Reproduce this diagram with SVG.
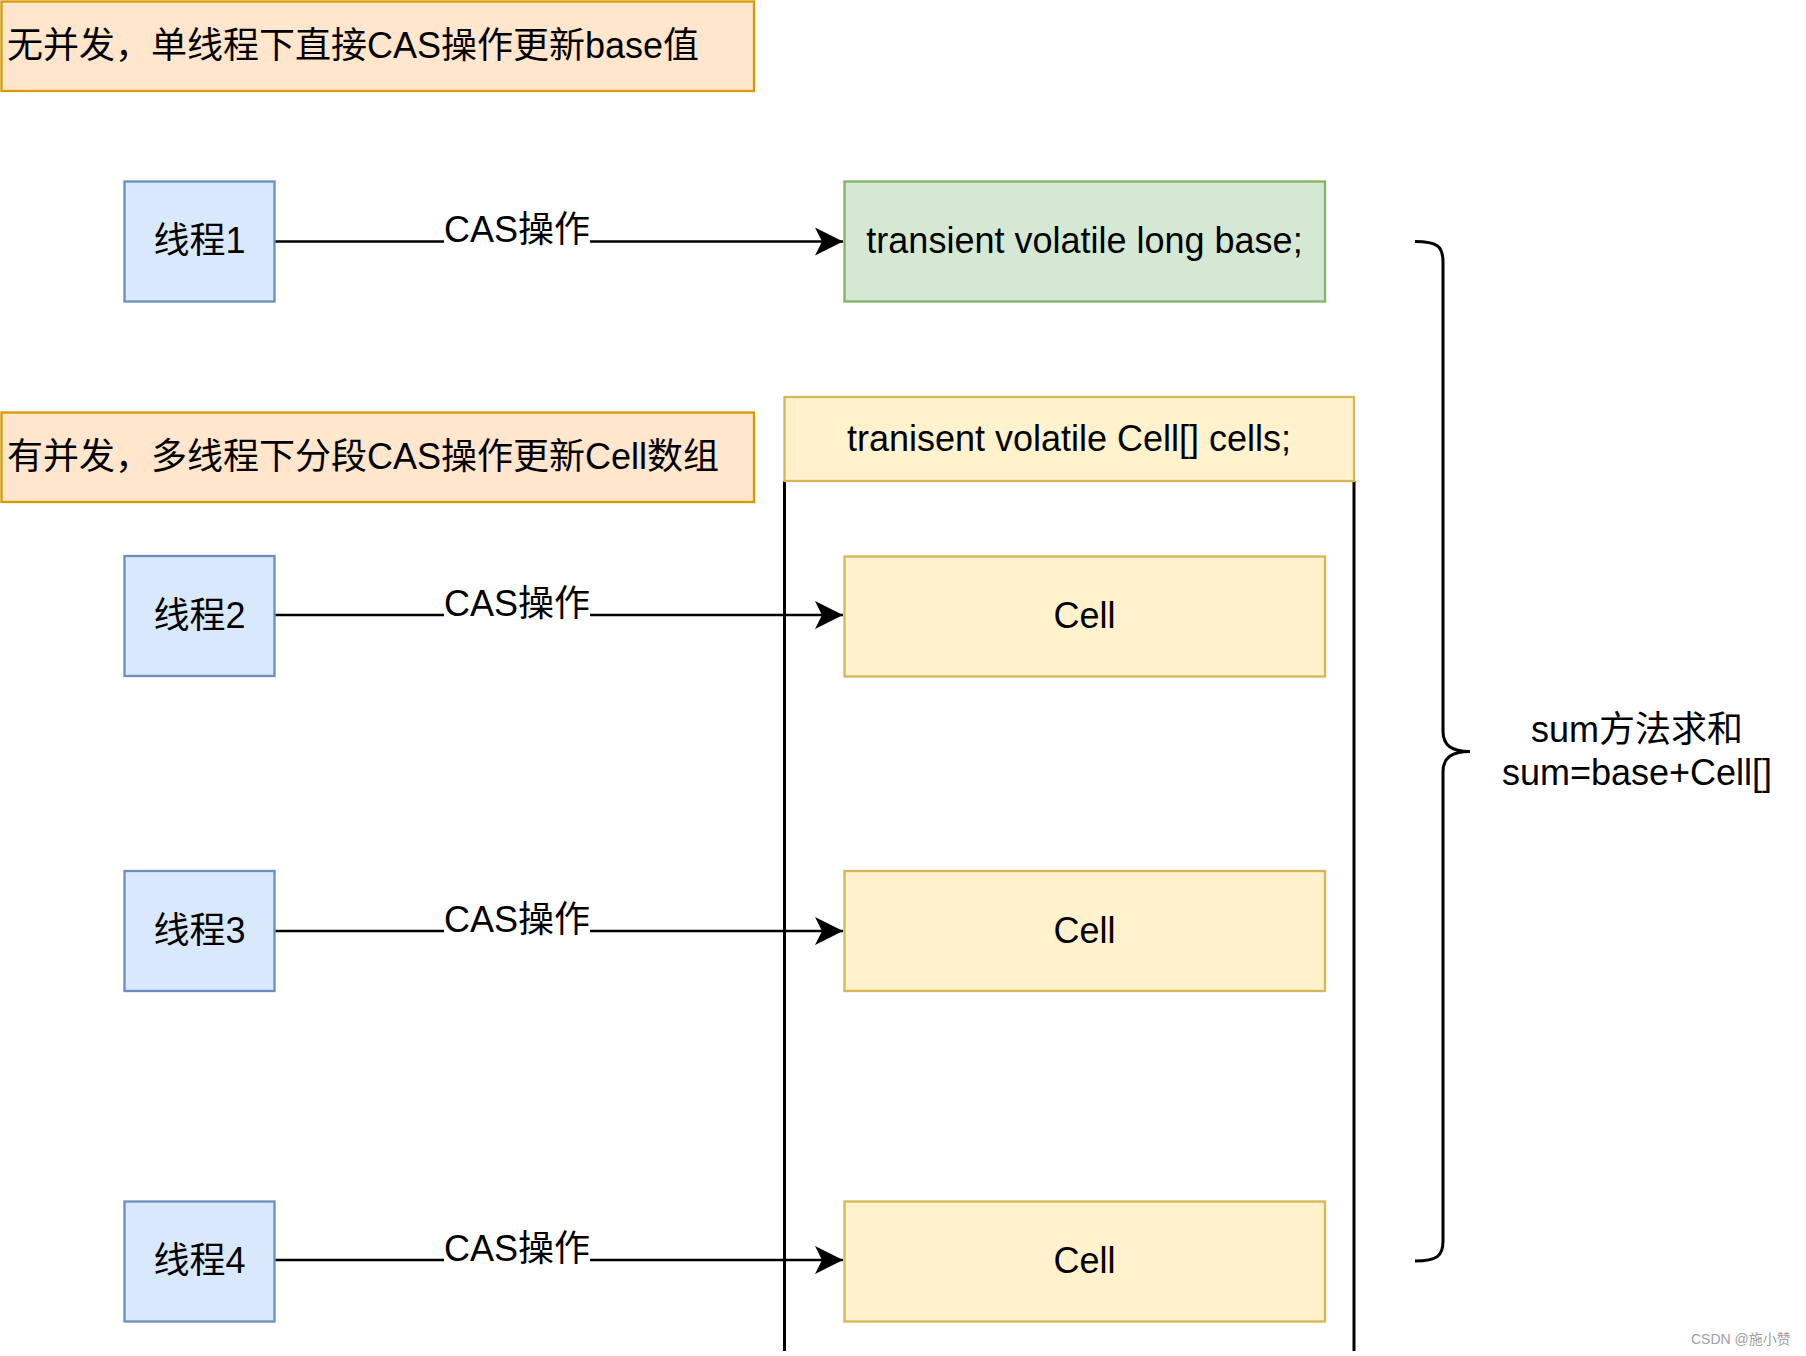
<svg xmlns="http://www.w3.org/2000/svg" width="1806" height="1356" viewBox="0 0 1806 1356">
<defs>
<style>
text{font-family:"Liberation Sans","Noto Sans CJK SC",sans-serif;font-size:36px;fill:#000}
.mid{text-anchor:middle}
.banner{fill:#ffe6cc;stroke:#d79b00;stroke-width:2.3}
.thread{fill:#dae8fc;stroke:#6c8ebf;stroke-width:2.3}
.base{fill:#d5e8d4;stroke:#82b366;stroke-width:2.3}
.cell{fill:#fff2cc;stroke:#d6b656;stroke-width:2.3}
.edge{fill:none;stroke:#000;stroke-width:2.3}
.lbg{fill:#fff;stroke:none}
.wire{fill:none;stroke:#000;stroke-width:3}
.wm{font-size:14px;fill:#a0a0a0}
</style>
<marker id="arr" markerUnits="userSpaceOnUse" markerWidth="30" markerHeight="30" refX="29" refY="15" orient="auto" viewBox="0 0 30 30">
<path d="M1,1 L29,15 L1,29 L8,15 Z" fill="#000"/>
</marker>
</defs>
<rect width="1806" height="1356" fill="#fff"/>

<g id="banner1">
<rect class="banner" x="1.5" y="1.5" width="752.5" height="89.5"/>
<text x="7" y="57.5">无并发，单线程下直接CAS操作更新base值</text>
</g>
<g id="banner2">
<rect class="banner" x="1.5" y="412.5" width="752.5" height="89.5"/>
<text x="7" y="469">有并发，多线程下分段CAS操作更新Cell数组</text>
</g>

<g id="connectors">
<line class="edge" x1="275" y1="241.5" x2="843" y2="241.5" marker-end="url(#arr)"/>
<line class="edge" x1="275" y1="615" x2="843" y2="615" marker-end="url(#arr)"/>
<line class="edge" x1="275" y1="931" x2="843" y2="931" marker-end="url(#arr)"/>
<line class="edge" x1="275" y1="1260" x2="843" y2="1260" marker-end="url(#arr)"/>
<rect class="lbg" x="444" y="205" width="146" height="40"/>
<rect class="lbg" x="444" y="578.5" width="146" height="40"/>
<rect class="lbg" x="444" y="894.5" width="146" height="40"/>
<rect class="lbg" x="444" y="1223.5" width="146" height="40"/>
<text class="mid" x="517" y="242">CAS操作</text>
<text class="mid" x="517" y="615.5">CAS操作</text>
<text class="mid" x="517" y="931.5">CAS操作</text>
<text class="mid" x="517" y="1260.5">CAS操作</text>
</g>

<g id="thread1">
<rect class="thread" x="124.5" y="181.5" width="150" height="120"/>
<text class="mid" x="199.5" y="253">线程1</text>
</g>
<g id="thread2">
<rect class="thread" x="124.5" y="556" width="150" height="120"/>
<text class="mid" x="199.5" y="627.5">线程2</text>
</g>
<g id="thread3">
<rect class="thread" x="124.5" y="871" width="150" height="120"/>
<text class="mid" x="199.5" y="942.5">线程3</text>
</g>
<g id="thread4">
<rect class="thread" x="124.5" y="1201.5" width="150" height="120"/>
<text class="mid" x="199.5" y="1273">线程4</text>
</g>

<g id="base">
<rect class="base" x="844.5" y="181.5" width="480.5" height="120"/>
<text class="mid" x="1084.5" y="253">transient volatile long base;</text>
</g>

<g id="cells">
<line class="wire" x1="784.5" y1="481" x2="784.5" y2="1351"/>
<line class="wire" x1="1354" y1="481" x2="1354" y2="1351"/>
<rect class="cell" x="784.5" y="397" width="569.5" height="84"/>
<text class="mid" x="1069" y="450.5">tranisent volatile Cell[] cells;</text>
</g>
<g id="cell1">
<rect class="cell" x="844.5" y="556.5" width="480.5" height="120"/>
<text class="mid" x="1084.5" y="628">Cell</text>
</g>
<g id="cell2">
<rect class="cell" x="844.5" y="871" width="480.5" height="120"/>
<text class="mid" x="1084.5" y="942.5">Cell</text>
</g>
<g id="cell3">
<rect class="cell" x="844.5" y="1201.5" width="480.5" height="120"/>
<text class="mid" x="1084.5" y="1273">Cell</text>
</g>

<g id="brace">
<path class="wire" d="M1415,241.5 C1437,241.5 1443,246 1443,262 L1443,731 C1443,745 1451,751.5 1470,751.5 C1451,751.5 1443,758 1443,772 L1443,1241 C1443,1256 1437,1261 1415,1261"/>
</g>
<g id="sumlabel">
<text class="mid" x="1637" y="741.5">sum方法求和</text>
<text class="mid" x="1637" y="785">sum=base+Cell[]</text>
</g>

<text class="wm" x="1691" y="1344">CSDN @施小赞</text>
</svg>
